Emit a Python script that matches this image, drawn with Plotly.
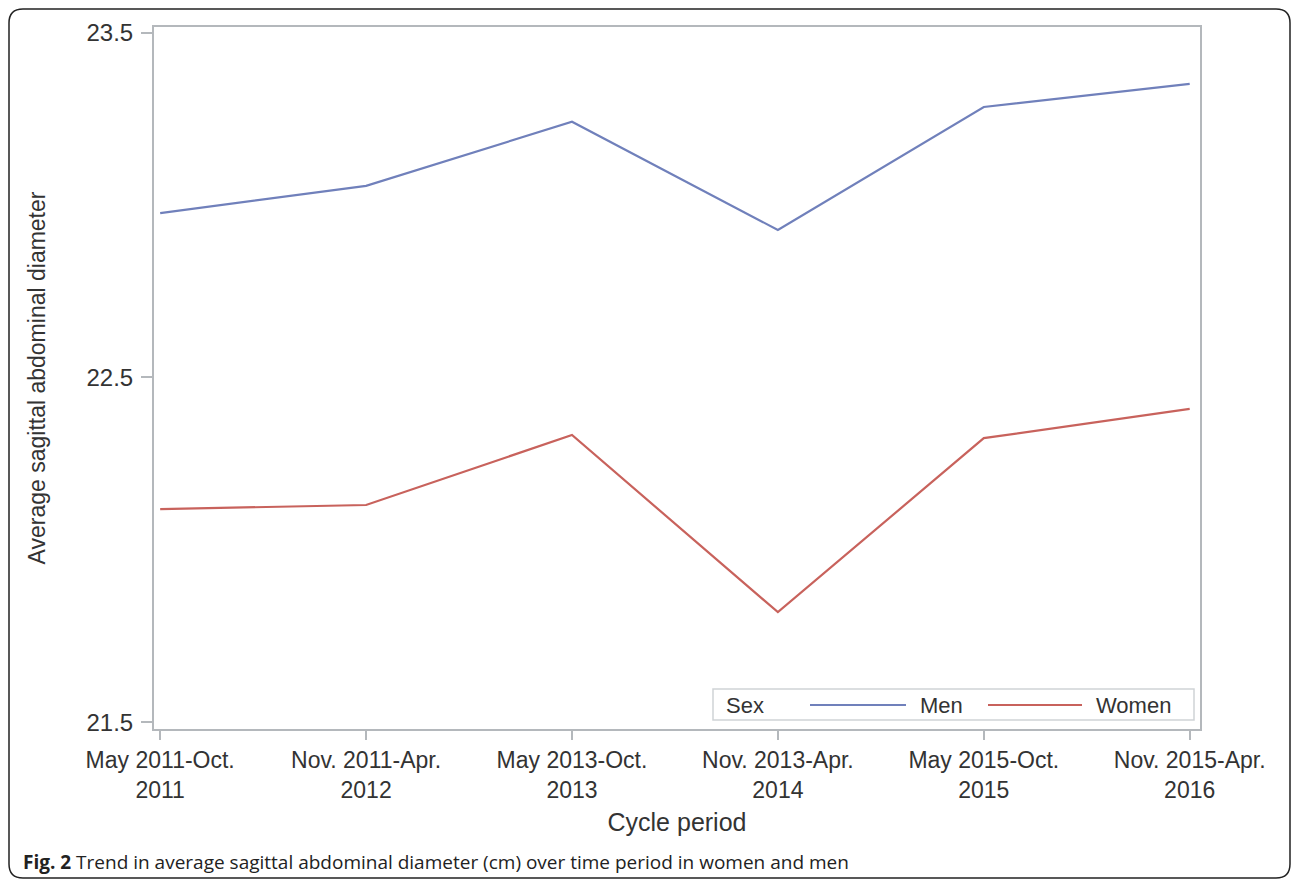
import plotly.graph_objects as go

periods = ["May 2011-Oct.<br>2011", "Nov. 2011-Apr.<br>2012", "May 2013-Oct.<br>2013",
           "Nov. 2013-Apr.<br>2014", "May 2015-Oct.<br>2015", "Nov. 2015-Apr.<br>2016"]
men = [22.977, 23.056, 23.242, 22.928, 23.285, 23.352]
women = [22.118, 22.130, 22.333, 21.819, 22.324, 22.409]
y_ticks = [21.5, 22.5, 23.5]
series_names = ["Men", "Women"]
legend_title = "Sex"

MEN_COLOR = "#7080bb"
WOMEN_COLOR = "#c8625c"
AXIS_COLOR = "#b4b8bc"
TEXT_COLOR = "#333333"
FONT = "Liberation Sans, Arial, sans-serif"

x_idx = list(range(len(periods)))

fig = go.Figure()
fig.add_trace(go.Scatter(x=x_idx, y=men, mode="lines", name=series_names[0],
                         line=dict(color=MEN_COLOR, width=2.2), showlegend=False))
fig.add_trace(go.Scatter(x=x_idx, y=women, mode="lines", name=series_names[1],
                         line=dict(color=WOMEN_COLOR, width=2.2), showlegend=False))

# body margin removed via post_script -> figure coords = screen coords
OFF = 0
W, H = 1292, 885
L, R, T, B = 154, 1200, 27, 729
fig.update_layout(
    width=W, height=H,
    margin=dict(l=L, r=W - R, t=T, b=H - B, pad=0),
    paper_bgcolor="white", plot_bgcolor="white",
    font=dict(family=FONT, color=TEXT_COLOR, size=22),
    showlegend=False,
    xaxis=dict(
        range=[-0.03, 5.05], tickmode="array", tickvals=x_idx, ticktext=periods,
        showline=True, linecolor=AXIS_COLOR, linewidth=2, mirror=True,
        ticks="outside", ticklen=9, tickwidth=1.5, tickcolor=AXIS_COLOR,
        showgrid=False, zeroline=False,
        tickfont=dict(size=23, color=TEXT_COLOR),
        title=dict(text="Cycle period", font=dict(size=25, color=TEXT_COLOR), standoff=12),
    ),
    yaxis=dict(
        range=[21.48, 23.517], tickmode="array", tickvals=y_ticks,
        ticktext=[f"{v:.1f}" for v in y_ticks],
        showline=True, linecolor=AXIS_COLOR, linewidth=2, mirror=True,
        ticks="outside", ticklen=11, tickwidth=1.5, tickcolor=AXIS_COLOR,
        ticklabelstandoff=3,
        showgrid=False, zeroline=False,
        tickfont=dict(size=24, color=TEXT_COLOR),
        title=dict(text="Average sagittal abdominal diameter", font=dict(size=23, color=TEXT_COLOR), standoff=34),
    ),
)

pw, ph = R - L, B - T
def px(xs):
    return (xs - OFF - L) / pw
def py(ys):
    return (B - (ys - OFF)) / ph

# outer rounded frame
x0, x1, y0, y1, r = 9, 1290, 9, 878, 14
path = (f"M {px(x0 + r)},{py(y0)} L {px(x1 - r)},{py(y0)} "
        f"Q {px(x1)},{py(y0)} {px(x1)},{py(y0 + r)} "
        f"L {px(x1)},{py(y1 - r)} Q {px(x1)},{py(y1)} {px(x1 - r)},{py(y1)} "
        f"L {px(x0 + r)},{py(y1)} Q {px(x0)},{py(y1)} {px(x0)},{py(y1 - r)} "
        f"L {px(x0)},{py(y0 + r)} Q {px(x0)},{py(y0)} {px(x0 + r)},{py(y0)} Z")
fig.add_shape(type="path", path=path, xref="paper", yref="paper",
              line=dict(color="#222222", width=1.5), fillcolor="rgba(0,0,0,0)", layer="below")

# legend box (drawn like the original inside-plot legend)
fig.add_shape(type="rect", xref="paper", yref="paper",
              x0=px(713), x1=px(1194), y0=py(720), y1=py(689),
              line=dict(color="#d0d3d6", width=1.5), fillcolor="white", layer="above")
fig.add_annotation(xref="paper", yref="paper", x=px(724), y=py(705), xanchor="left", yanchor="middle",
                   text=legend_title, showarrow=False, font=dict(family=FONT, size=22, color=TEXT_COLOR))
legend_items = [(series_names[0], MEN_COLOR, 810, 906, 918),
                (series_names[1], WOMEN_COLOR, 988, 1082, 1094)]
for name, col, lx0, lx1, tx in legend_items:
    fig.add_shape(type="line", xref="paper", yref="paper", x0=px(lx0), x1=px(lx1),
                  y0=py(705), y1=py(705), line=dict(color=col, width=2.2), layer="above")
    fig.add_annotation(xref="paper", yref="paper", x=px(tx), y=py(705), xanchor="left", yanchor="middle",
                       text=name, showarrow=False, font=dict(family=FONT, size=22, color=TEXT_COLOR))

fig.add_annotation(
    xref="paper", yref="paper", x=px(21), y=py(862), xanchor="left", yanchor="middle",
    text="<b>Fig. 2</b> Trend in average sagittal abdominal diameter (cm) over time period in women and men",
    showarrow=False, font=dict(family="Open Sans, Noto Sans, sans-serif", size=19, color="#222222"),
)

fig.write_html("out.html", config={"displayModeBar": False},
               post_script="document.body.style.margin='0';document.body.style.overflow='hidden';")
